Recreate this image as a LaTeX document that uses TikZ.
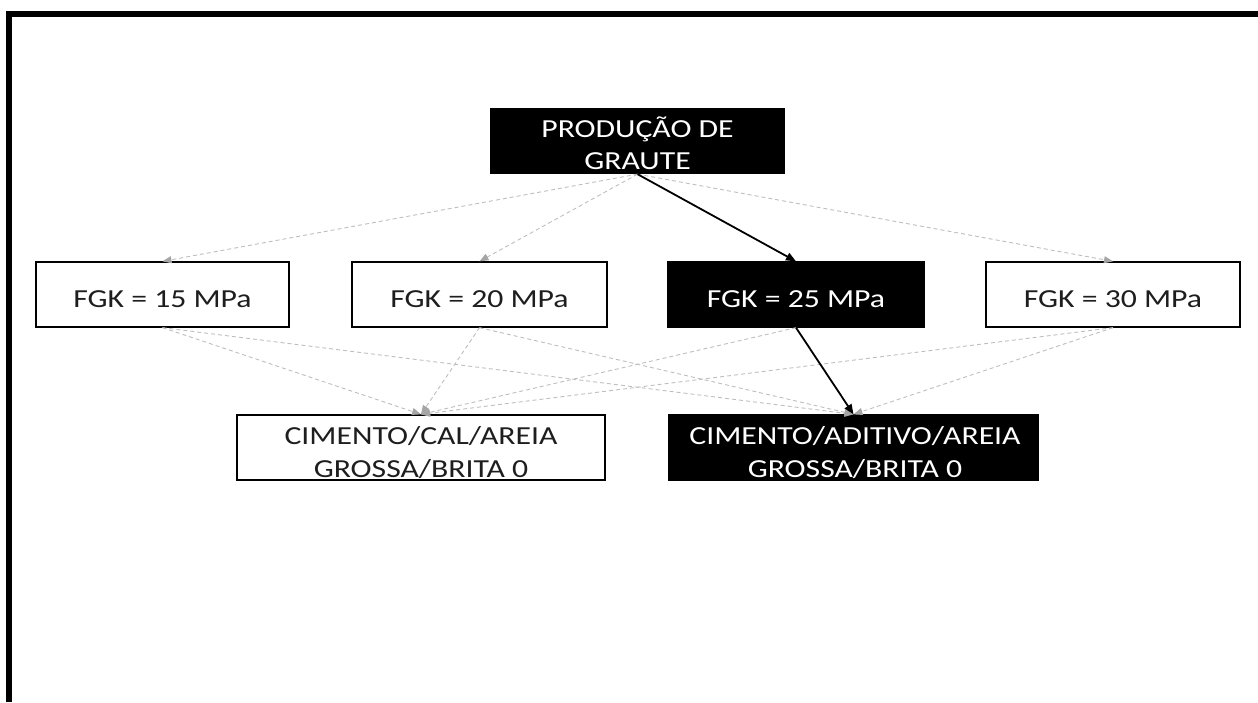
\documentclass[tikz,border=0pt]{standalone}
\usepackage{fontspec}
\setmainfont{Carlito}[FakeStretch=1.22]
\usetikzlibrary{arrows.meta}
\definecolor{dgray}{RGB}{190,190,190}
\definecolor{agray}{RGB}{165,165,165}
\definecolor{tgray}{RGB}{30,30,30}
\begin{document}
\begin{tikzpicture}[x=1pt,y=-1pt,
  wbox/.style={draw=black,line width=1.3pt,fill=white,minimum height=65pt,inner sep=0pt},
  bbox/.style={draw=black,line width=1.3pt,fill=black,minimum height=65pt,inner sep=0pt},
  wtxt/.style={anchor=base,inner sep=0pt,text=tgray,font=\fontsize{26}{32}\selectfont},
  btxt/.style={wtxt,text=white},
  dline/.style={draw=dgray,line width=0.9pt,dash pattern=on 4pt off 3pt,
    -{Triangle[length=9pt,width=7pt,color=agray]}},
  sline/.style={draw=black,line width=1.8pt,-{Triangle[length=10pt,width=8pt]}}]
\useasboundingbox (0,0) rectangle (1258,702);
% frame (left and top only)
\fill[black] (6,11) rectangle (1258,17);
\fill[black] (6,11) rectangle (12,702);
% boxes
\node[bbox,minimum width=293pt] (prod) at (637.5,141) {};
\node[wbox,minimum width=253pt] (f15) at (162.5,294.5) {};
\node[wbox,minimum width=255pt] (f20) at (479.5,294.5) {};
\node[bbox,minimum width=256pt] (f25) at (796,294.5) {};
\node[wbox,minimum width=254pt] (f30) at (1113,294.5) {};
\node[wbox,minimum width=368pt] (cal) at (421,447.5) {};
\node[bbox,minimum width=369pt] (adt) at (853.5,447.5) {};
% dashed connectors
\draw[dline] (prod.south) -- (f15.north);
\draw[dline] (prod.south) -- (f20.north);
\draw[dline] (prod.south) -- (f30.north);
\draw[dline] (f15.south) -- (cal.north);
\draw[dline] (f15.south) -- (adt.north);
\draw[dline] (f20.south) -- (cal.north);
\draw[dline] (f20.south) -- (adt.north);
\draw[dline] (f25.south) -- (cal.north);
\draw[dline] (f30.south) -- (cal.north);
\draw[dline] (f30.south) -- (adt.north);
% highlighted path
\draw[sline] (prod.south) -- (f25.north);
\draw[sline] (f25.south) -- (adt.north);
% texts
\node[btxt] (prodt1) at (637.5,137) {PRODUÇÃO DE};
\node[btxt] (prodt2) at (637.5,169) {GRAUTE};
\node[wtxt] (f15t) at (162.5,307.5) {FGK = 15 MPa};
\node[wtxt] (f20t) at (479.5,307.5) {FGK = 20 MPa};
\node[btxt] (f25t) at (796,307.5) {FGK = 25 MPa};
\node[wtxt] (f30t) at (1113,307.5) {FGK = 30 MPa};
\node[wtxt] (calt1) at (421,444) {CIMENTO/CAL/AREIA};
\node[wtxt] (calt2) at (421,477) {GROSSA/BRITA 0};
\node[btxt] (adtt1) at (855,444) {CIMENTO/ADITIVO/AREIA};
\node[btxt] (adtt2) at (855,477) {GROSSA/BRITA 0};
\end{tikzpicture}
\end{document}
